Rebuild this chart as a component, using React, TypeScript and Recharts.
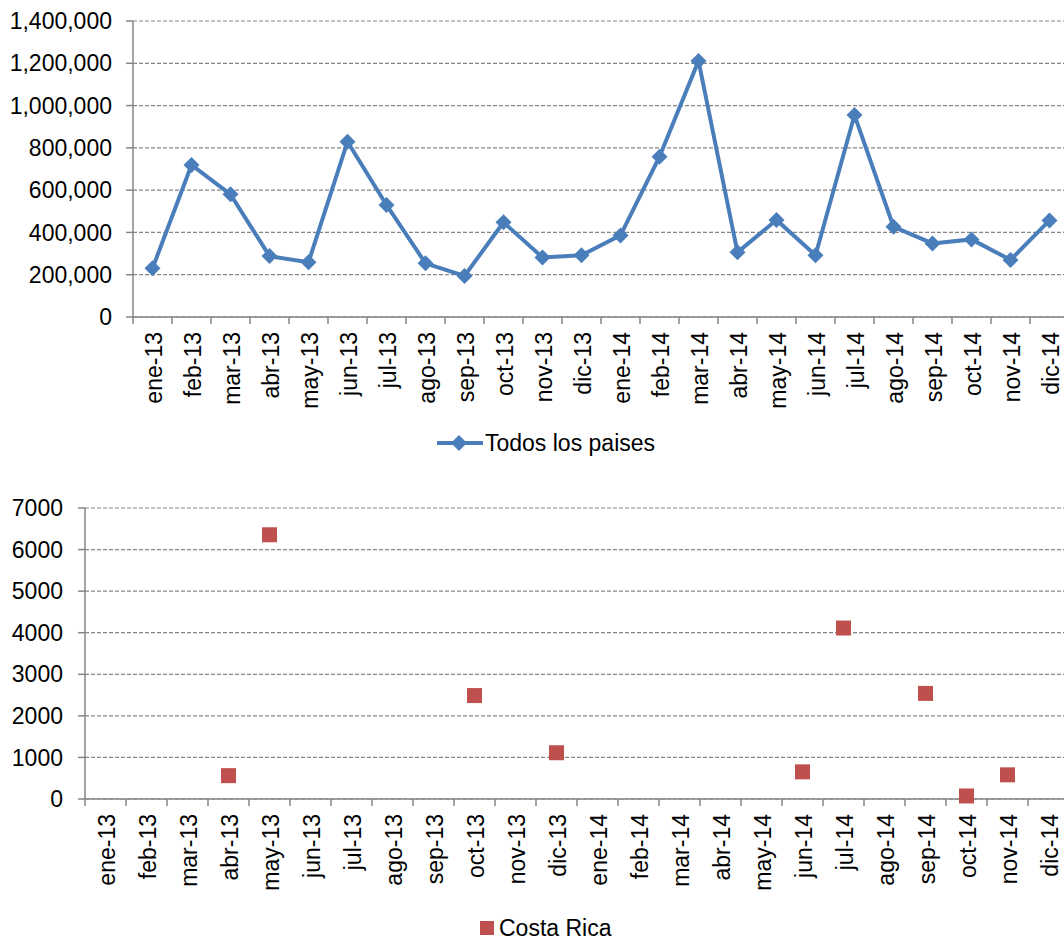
import React from 'react';
import {
  LineChart,
  Line,
  XAxis,
  YAxis,
  CartesianGrid,
  Legend,
} from 'recharts';

const months = [
  'ene-13', 'feb-13', 'mar-13', 'abr-13', 'may-13', 'jun-13',
  'jul-13', 'ago-13', 'sep-13', 'oct-13', 'nov-13', 'dic-13',
  'ene-14', 'feb-14', 'mar-14', 'abr-14', 'may-14', 'jun-14',
  'jul-14', 'ago-14', 'sep-14', 'oct-14', 'nov-14', 'dic-14',
];

const todosLosPaises = [
  230000, 719000, 580000, 288000, 259000, 829000,
  530000, 254000, 194000, 448000, 282000, 292000,
  386000, 758000, 1211000, 306000, 459000, 292000,
  955000, 427000, 348000, 367000, 270000, 457000,
];

const costaRica: (number | null)[] = [
  null, null, null, 562, 6356, null,
  null, null, null, 2488, null, 1113,
  null, null, null, null, null, 653,
  4113, null, 2540, 73, 581, null,
];

const topTicks = [0, 200000, 400000, 600000, 800000, 1000000, 1200000, 1400000];
const bottomTicks = [0, 1000, 2000, 3000, 4000, 5000, 6000, 7000];

const topData = months.map((m, i) => ({ month: m, todos: todosLosPaises[i] }));
const bottomData = months.map((m, i) => ({ month: m, costa: costaRica[i] }));

const FONT = '"Liberation Sans", Arial, sans-serif';
const AXIS = '#868686';
const BLUE = '#4a7ebb';
const RED = '#c0504d';

function MonthTick({ x, y, payload, index, band }: any) {
  return (
    <g transform={`translate(${x},${y})`}>
      <line x1={-band / 2} y1={0} x2={-band / 2} y2={7} stroke={AXIS} strokeWidth={1.5} />
      {index === months.length - 1 && (
        <line x1={band / 2} y1={0} x2={band / 2} y2={7} stroke={AXIS} strokeWidth={1.5} />
      )}
      <text
        transform="rotate(-90)"
        x={-15}
        y={9}
        textAnchor="end"
        fontSize={23}
        fontFamily={FONT}
        fill="#000"
      >
        {payload.value}
      </text>
    </g>
  );
}

function Diamond({ cx, cy, index }: any) {
  if (cx == null || cy == null) return <g key={`d-${index}`} />;
  const r = 8;
  return (
    <path
      key={`d-${index}`}
      d={`M${cx} ${cy - r} L${cx + r} ${cy} L${cx} ${cy + r} L${cx - r} ${cy} Z`}
      fill={BLUE}
    />
  );
}

function Square({ cx, cy, index, value }: any) {
  if (value == null || cx == null || cy == null) return <g key={`s-${index}`} />;
  const s = 15;
  return <rect key={`s-${index}`} x={cx - s / 2} y={cy - s / 2} width={s} height={s} fill={RED} />;
}

function TopLegend() {
  return (
    <div style={{ paddingTop: 23, paddingLeft: 437, display: 'flex', alignItems: 'center', fontFamily: FONT, fontSize: 23, color: '#000' }}>
      <svg width={47} height={18}>
        <line x1={0} y1={9} x2={46} y2={9} stroke={BLUE} strokeWidth={4} />
        <path d="M22 1 L30 9 L22 17 L14 9 Z" fill={BLUE} />
      </svg>
      <span style={{ marginLeft: 1, lineHeight: '26px' }}>Todos los paises</span>
    </div>
  );
}

function BottomLegend() {
  return (
    <div style={{ paddingTop: 26, paddingLeft: 480, display: 'flex', alignItems: 'center', fontFamily: FONT, fontSize: 23, color: '#000' }}>
      <svg width={14} height={14}>
        <rect x={0} y={0} width={14} height={14} fill={RED} />
      </svg>
      <span style={{ marginLeft: 5, lineHeight: '26px' }}>Costa Rica</span>
    </div>
  );
}

export default function App() {
  const topBand = (1069 - 133) / months.length;
  const bottomBand = (1069 - 85) / months.length;
  const tickStyle = { fontSize: 23, fill: '#000', fontFamily: FONT };

  return (
    <div style={{ position: 'absolute', left: 0, top: 0, width: 1064, height: 940, overflow: 'hidden', background: '#fff' }}>
      <div style={{ position: 'absolute', left: 0, top: 0 }}>
        <LineChart width={1069} height={470} data={topData} margin={{ top: 21, right: 0, left: 0, bottom: 0 }}>
          <CartesianGrid vertical={false} stroke={AXIS} strokeDasharray="4 2" strokeWidth={1.2} />
          <XAxis
            dataKey="month"
            interval={0}
            height={90}
            padding={{ left: topBand / 2, right: topBand / 2 }}
            tickSize={0}
            tickMargin={0}
            tickLine={false}
            axisLine={{ stroke: AXIS, strokeWidth: 1.5 }}
            tick={<MonthTick band={topBand} />}
          />
          <YAxis
            width={133}
            domain={[0, 1400000]}
            ticks={topTicks}
            interval={0}
            tickSize={7}
            tickMargin={14}
            tickLine={{ stroke: AXIS, strokeWidth: 1.5 }}
            axisLine={{ stroke: AXIS, strokeWidth: 1.5 }}
            tick={tickStyle}
            tickFormatter={(v: number) => v.toLocaleString('en-US')}
          />
          <Legend verticalAlign="bottom" align="left" height={63} content={<TopLegend />} />
          <Line
            type="linear"
            dataKey="todos"
            stroke={BLUE}
            strokeWidth={4}
            dot={Diamond}
            activeDot={false}
            isAnimationActive={false}
          />
        </LineChart>
      </div>
      <div style={{ position: 'absolute', left: 0, top: 480 }}>
        <LineChart width={1069} height={460} data={bottomData} margin={{ top: 28, right: 0, left: 0, bottom: 0 }}>
          <CartesianGrid vertical={false} stroke={AXIS} strokeDasharray="4 2" strokeWidth={1.2} />
          <XAxis
            dataKey="month"
            interval={0}
            height={90}
            padding={{ left: bottomBand / 2, right: bottomBand / 2 }}
            tickSize={0}
            tickMargin={0}
            tickLine={false}
            axisLine={{ stroke: AXIS, strokeWidth: 1.5 }}
            tick={<MonthTick band={bottomBand} />}
          />
          <YAxis
            width={85}
            domain={[0, 7000]}
            ticks={bottomTicks}
            interval={0}
            tickSize={7}
            tickMargin={15}
            tickLine={{ stroke: AXIS, strokeWidth: 1.5 }}
            axisLine={{ stroke: AXIS, strokeWidth: 1.5 }}
            tick={tickStyle}
          />
          <Legend verticalAlign="bottom" align="left" height={51} content={<BottomLegend />} />
          <Line
            type="linear"
            dataKey="costa"
            stroke="none"
            dot={Square}
            activeDot={false}
            connectNulls={false}
            isAnimationActive={false}
          />
        </LineChart>
      </div>
    </div>
  );
}
